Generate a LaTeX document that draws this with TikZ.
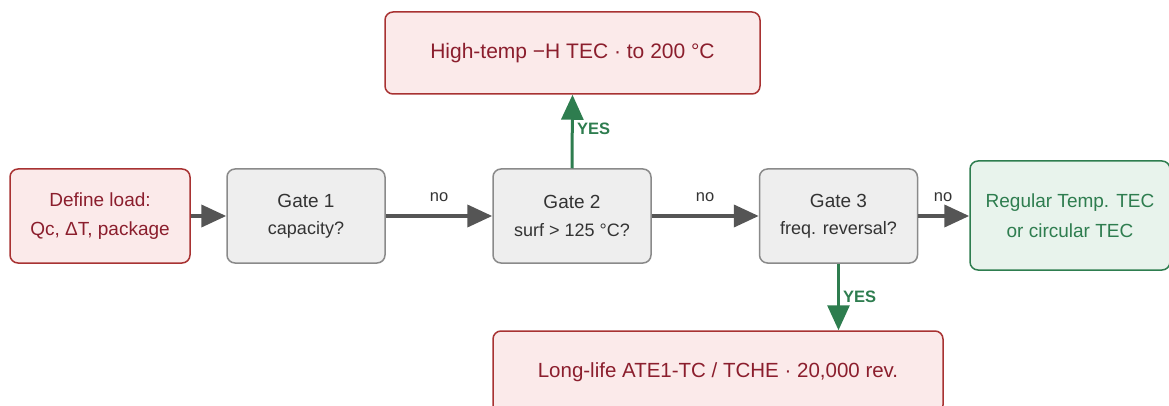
\documentclass[tikz,border=0pt]{standalone}
\usepackage{fontspec}
\setmainfont{Liberation Sans}
\usetikzlibrary{arrows.meta}
\definecolor{redfill}{HTML}{FBEAEA}
\definecolor{redline}{HTML}{A83232}
\definecolor{redtext}{HTML}{8B1E2D}
\definecolor{grayfill}{HTML}{EEEEEE}
\definecolor{grayline}{HTML}{8A8A8A}
\definecolor{graytext}{HTML}{333333}
\definecolor{greenfill}{HTML}{E8F3EC}
\definecolor{greenline}{HTML}{2E7D4F}
\definecolor{arrowgray}{HTML}{555555}
\begin{document}
\begin{tikzpicture}[x=1pt,y=-1pt,
 box/.style={rounded corners=8pt, line width=1.5pt, align=center, inner sep=0pt, anchor=center},
 redbox/.style={box, fill=redfill, draw=redline, text=redtext, font=\fontsize{20.5}{28}\selectfont},
 gatebox/.style={box, fill=grayfill, draw=grayline, text=graytext, minimum width=158pt, minimum height=94pt, font=\fontsize{19}{27.5}\selectfont},
 greenbox/.style={box, fill=greenfill, draw=greenline, text=greenline, font=\fontsize{19}{30}\selectfont},
 noarrow/.style={draw=arrowgray, line width=4pt, -{Triangle[length=25pt,width=22pt]}},
 yesarrow/.style={draw=greenline, line width=3pt, -{Triangle[length=25pt,width=22pt]}},
 nolabel/.style={text=graytext, font=\fontsize{16.5}{18}\selectfont, inner sep=0pt},
 yeslabel/.style={text=greenline, font=\bfseries\fontsize{16.5}{18}\selectfont, inner sep=0pt, anchor=west},
]
\useasboundingbox (0,0) rectangle (1169,406);
\clip (0,0) rectangle (1169,406);

\node[redbox, minimum width=180pt, minimum height=94pt, font=\fontsize{19}{29}\selectfont] (def) at (100,216) {Define load:\\Qc, ΔT, package};
\node[gatebox] (g1) at (306,216) {Gate 1\\{\fontsize{18}{27.5}\selectfont capacity?}};
\node[gatebox] (g2) at (572,216) {Gate 2\\{\fontsize{18}{27.5}\selectfont surf > 125 °C?}};
\node[gatebox] (g3) at (838.5,216) {Gate 3\\{\fontsize{18}{27.5}\selectfont freq. reversal?}};
\node[greenbox, minimum width=200pt, minimum height=109pt] (reg) at (1070,215.5) {Regular Temp. TEC\\or circular TEC};
\node[redbox, minimum width=375pt, minimum height=82pt, font=\fontsize{21}{28}\selectfont] (hot) at (572.5,53) {High-temp −H TEC · to 200 °C};
\node[redbox, minimum width=450pt, minimum height=82pt] (long) at (718,372) {Long-life ATE1-TC / TCHE · 20,000 rev.};

\draw[noarrow] (def.east) -- (g1.west);
\draw[noarrow] (g1.east) -- (g2.west);
\draw[noarrow] (g2.east) -- (g3.west);
\draw[noarrow] (g3.east) -- (g3.east -| reg.west);
\draw[yesarrow] (g2.north) -- (hot.south);
\draw[yesarrow] (g3.south) -- (g3.south |- long.north);

\node[nolabel] (n1) at (439,197) {no};
\node[nolabel] (n2) at (705,197) {no};
\node[nolabel] (n3) at (943,197) {no};
\node[yeslabel] (y1) at (577,129) {YES};
\node[yeslabel] (y2) at (843,297) {YES};
\end{tikzpicture}
\end{document}
